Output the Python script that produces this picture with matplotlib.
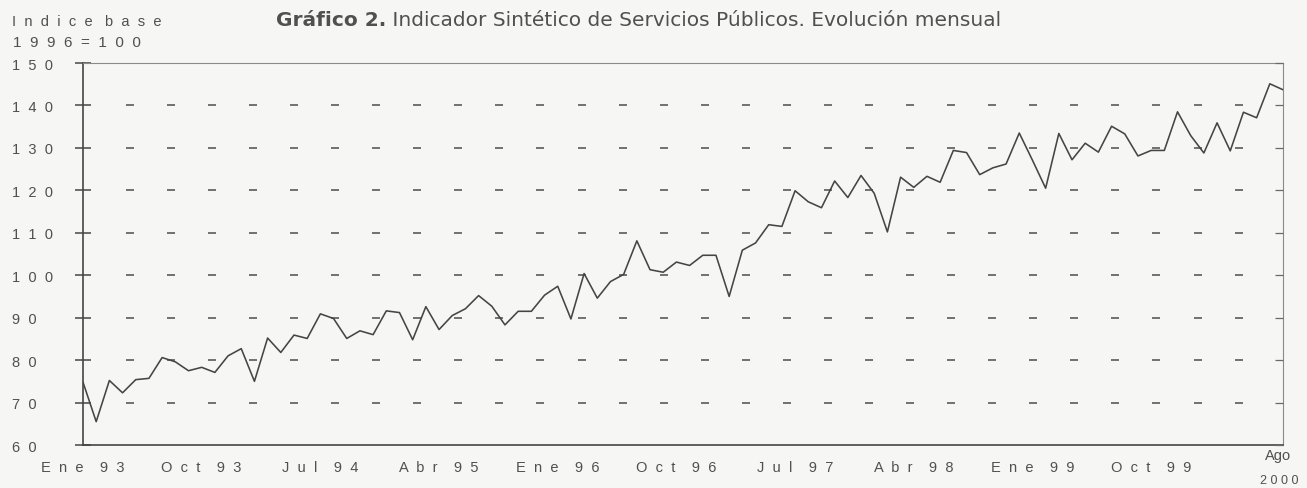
import numpy as np
import matplotlib
matplotlib.use("Agg")
import matplotlib.pyplot as plt
from matplotlib import transforms

plt.rcParams['font.family'] = ['Liberation Sans', 'DejaVu Sans']

# Indicador mensual, Ene 93 .. Ago 2000 (base 1996 = 100)
valores = [
    74.8, 65.5, 75.2, 72.3, 75.4, 75.7, 80.6, 79.6, 77.5, 78.3, 77.1, 81.0,
    82.7, 75.0, 85.2, 81.8, 85.9, 85.1, 90.9, 89.8, 85.1, 86.9, 86.0, 91.6,
    91.2, 84.8, 92.6, 87.2, 90.5, 92.1, 95.2, 92.7, 88.3, 91.5, 91.5, 95.3,
    97.4, 89.7, 100.4, 94.6, 98.5, 100.2, 108.1, 101.3, 100.7, 103.1, 102.3, 104.7,
    104.7, 95.0, 105.9, 107.6, 111.9, 111.5, 119.9, 117.3, 115.9, 122.2, 118.3, 123.5,
    119.3, 110.2, 123.1, 120.7, 123.3, 121.9, 129.4, 128.9, 123.7, 125.3, 126.2, 133.5,
    127.1, 120.5, 133.4, 127.2, 131.1, 129.0, 135.1, 133.3, 128.1, 129.4, 129.4, 138.5,
    132.9, 128.8, 135.9, 129.3, 138.4, 137.1, 145.1, 143.7,
]
etiquetas_x = ['Ene 93', 'Oct 93', 'Jul 94', 'Abr 95', 'Ene 96',
               'Oct 96', 'Jul 97', 'Abr 98', 'Ene 99', 'Oct 99']
posiciones_x = [0, 9, 18, 27, 36, 45, 54, 63, 72, 81]
niveles_y = [60, 70, 80, 90, 100, 110, 120, 130, 140, 150]
niveles_guia = [70, 80, 90, 100, 110, 120, 130, 140]

GRIS_TXT = '#505050'
GRIS_LIN = '#454545'
FONDO = '#f6f6f4'


def espaciar(texto, n=2, m=4):
    # texto con letras separadas, como en el original
    return (' ' * m).join((' ' * n).join(p) for p in texto.split())


fig = plt.figure(figsize=(13.07, 4.89), dpi=100, facecolor=FONDO)
ax = fig.add_axes([83 / 1307, 1 - 446 / 489, 1200 / 1307, (446 - 64) / 489])
ax.set_facecolor(FONDO)

meses = np.arange(len(valores))
ax.plot(meses, valores, color=GRIS_LIN, lw=1.15, zorder=3)
ax.set_xlim(0, len(valores) - 1)
ax.set_ylim(60, 150)

# guiones horizontales de referencia
trans = transforms.blended_transform_factory(ax.transAxes, ax.transData)
xs_guia = np.linspace(0.039, 0.963, 28)
for nivel in niveles_guia:
    ax.plot(xs_guia, [nivel] * len(xs_guia), ls='none', marker='_', ms=5.5,
            mew=1.2, color='#5a5a5a', transform=trans, zorder=2)

# ejes
for lado in ['left', 'bottom']:
    ax.spines[lado].set_color(GRIS_LIN)
    ax.spines[lado].set_linewidth(1.2)
for lado in ['top', 'right']:
    ax.spines[lado].set_color('#8a8a8a')
    ax.spines[lado].set_linewidth(0.8)

ax.set_yticks(niveles_y)
ax.set_yticklabels([espaciar(str(v)) for v in niveles_y], fontsize=10.5,
                   color=GRIS_TXT, ha='left')
ax.tick_params(axis='y', direction='inout', length=12, width=1.1,
               color=GRIS_LIN, pad=45)

ax.set_xticks(posiciones_x)
ax.set_xticklabels([espaciar(t) for t in etiquetas_x], fontsize=10.5,
                   color=GRIS_TXT)
ax.tick_params(axis='x', length=0, pad=11)

ax2 = ax.twinx()
ax2.set_ylim(60, 150)
ax2.set_yticks(niveles_y)
ax2.tick_params(axis='y', direction='in', length=6, width=0.9,
                color='#6a6a6a', labelright=False)
for s in ax2.spines.values():
    s.set_visible(False)

# ultima etiqueta: Ago 2000
ax.annotate('Ago', xy=(meses[-1], 0), xycoords=('data', 'axes fraction'),
            xytext=(-5, -3), textcoords='offset pixels', ha='center', va='top',
            fontsize=10.5, color=GRIS_TXT, annotation_clip=False)
ax.annotate('2 0 0 0', xy=(meses[-1], 0), xycoords=('data', 'axes fraction'),
            xytext=(-4, -29), textcoords='offset pixels', ha='center', va='top',
            fontsize=9, color=GRIS_TXT, annotation_clip=False)

# textos superiores
fig.text(12 / 1307, 1 - 26 / 489, espaciar('Indice base', 2, 3), fontsize=10.5,
         color=GRIS_TXT, ha='left', va='baseline')
fig.text(13 / 1307, 1 - 47 / 489, espaciar('1996=100', 2), fontsize=11,
         color=GRIS_TXT, ha='left', va='baseline')

t1 = fig.text(276 / 1307, 1 - 26.5 / 489, 'Gráfico 2.', fontsize=14.5,
              fontweight='bold', color=GRIS_TXT, ha='left', va='baseline',
              family='DejaVu Sans')
ax.annotate(' Indicador Sintético de Servicios Públicos. Evolución mensual',
            xy=(1, 0), xycoords=t1, ha='left', va='bottom', fontsize=14.5,
            color=GRIS_TXT, family='DejaVu Sans', annotation_clip=False)

fig.savefig('out.png', dpi=100, facecolor=FONDO)
